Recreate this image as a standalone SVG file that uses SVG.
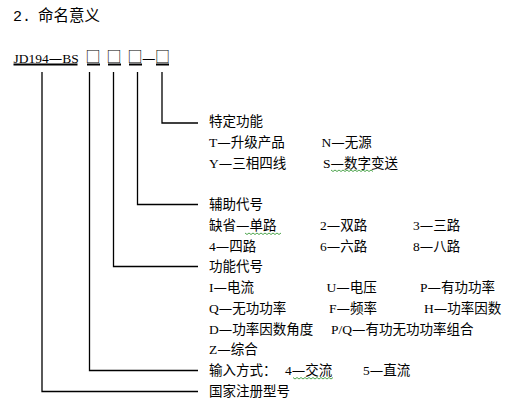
<svg xmlns="http://www.w3.org/2000/svg" width="531" height="406" viewBox="0 0 531 406">
<style>
.t{font-family:"Liberation Serif","Noto Sans CJK SC",serif;font-size:13.5px;fill:#000}
.d{font-family:"DejaVu Sans",sans-serif}
.b{font-family:"Noto Sans CJK SC",sans-serif;font-size:15px}
.h{font-family:"Noto Sans CJK SC",sans-serif;font-size:15.5px;fill:#000}
.m{font-family:"Liberation Mono",monospace;font-size:15px;fill:#000}
.c{fill:none;stroke:#000;stroke-width:1.3}
.u{fill:#000}
.w{fill:none;stroke:#3a9a3a;stroke-width:0.9}
</style>
<rect width="531" height="406" fill="#fff"/>
<g id="title">
<text class="m" x="13" y="21">2. </text>
<text class="h" x="38" y="21">命名意义</text>
</g>
<g id="model">
<text class="t" x="13.5" y="63" font-size="14">JD194<tspan class="d">—</tspan>BS</text>
<text class="t b" x="85.5" y="62">□</text>
<text class="t b" x="106.5" y="62">□</text>
<text class="t b" x="127.5" y="62">□</text>
<text class="t d" x="142" y="63" font-size="14">—</text>
<text class="t b" x="155" y="62">□</text>
<rect class="u" x="13.5" y="63.5" width="64" height="2"/>
<rect class="u" x="87" y="63.5" width="13" height="2"/>
<rect class="u" x="108" y="63.5" width="13" height="2"/>
<rect class="u" x="129" y="63.5" width="13" height="2"/>
<rect class="u" x="156" y="63.5" width="13" height="2"/>
</g>
<g id="connectors">
<polyline class="c" points="162,72 162,123 198,123"/>
<polyline class="c" points="137.5,72 137.5,204.5 198,204.5"/>
<polyline class="c" points="113.5,72 113.5,266.5 198,266.5"/>
<polyline class="c" points="89.5,72 89.5,370.5 198,370.5"/>
<polyline class="c" points="42,72 42,391.5 198,391.5"/>
</g>
<g id="special">
<text class="t" x="209" y="126">特定功能</text>
<text class="t" x="209" y="146.75">T<tspan class="d">—</tspan>升级产品</text>
<text class="t" x="321.5" y="146.75">N<tspan class="d">—</tspan>无源</text>
<text class="t" x="209" y="167.5">Y<tspan class="d">—</tspan>三相四线</text>
<text class="t" x="323" y="167.5">S<tspan class="d">—</tspan>数字变送</text>
<path class="w" d="M331,170 l2,1.5 2,-1.5 2,1.5 2,-1.5 2,1.5 2,-1.5 2,1.5 2,-1.5 2,1.5 2,-1.5 2,1.5 2,-1.5 2,1.5 2,-1.5 2,1.5 2,-1.5 2,1.5 2,-1.5 2,1.5 2,-1.5 2,1.5"/>
</g>
<g id="aux">
<text class="t" x="209" y="209">辅助代号</text>
<text class="t" x="209" y="229.75">缺省<tspan class="d">—</tspan>单路</text>
<text class="t" x="320" y="229.75">2<tspan class="d">—</tspan>双路</text>
<text class="t" x="413" y="229.75">3<tspan class="d">—</tspan>三路</text>
<path class="w" d="M245,233 l2,1.5 2,-1.5 2,1.5 2,-1.5 2,1.5 2,-1.5 2,1.5 2,-1.5 2,1.5 2,-1.5 2,1.5 2,-1.5 2,1.5 2,-1.5 2,1.5 2,-1.5 2,1.5 2,-1.5"/>
<text class="t" x="209" y="250.5">4<tspan class="d">—</tspan>四路</text>
<text class="t" x="320" y="250.5">6<tspan class="d">—</tspan>六路</text>
<text class="t" x="413" y="250.5">8<tspan class="d">—</tspan>八路</text>
</g>
<g id="func">
<text class="t" x="209" y="271.25">功能代号</text>
<text class="t" x="209" y="292">I<tspan class="d">—</tspan>电流</text>
<text class="t" x="326.5" y="292">U<tspan class="d">—</tspan>电压</text>
<text class="t" x="420" y="292">P<tspan class="d">—</tspan>有功功率</text>
<text class="t" x="209" y="312.75">Q<tspan class="d">—</tspan>无功功率</text>
<text class="t" x="329" y="312.75">F<tspan class="d">—</tspan>频率</text>
<text class="t" x="424" y="312.75">H<tspan class="d">—</tspan>功率因数</text>
<text class="t" x="209" y="333.5">D<tspan class="d">—</tspan>功率因数角度</text>
<text class="t" x="331" y="333.5">P/Q<tspan class="d">—</tspan>有功无功功率组合</text>
<text class="t" x="209" y="354.25">Z<tspan class="d">—</tspan>综合</text>
</g>
<g id="input">
<text class="t" x="209" y="375">输入方式：</text>
<text class="t" x="285" y="375">4<tspan class="d">—</tspan>交流</text>
<text class="t" x="363" y="375">5<tspan class="d">—</tspan>直流</text>
<path class="w" d="M293,377.5 l2,1.5 2,-1.5 2,1.5 2,-1.5 2,1.5 2,-1.5 2,1.5 2,-1.5 2,1.5 2,-1.5 2,1.5 2,-1.5 2,1.5 2,-1.5 2,1.5 2,-1.5 2,1.5 2,-1.5 2,1.5 2,-1.5"/>
</g>
<g id="national">
<text class="t" x="209" y="395.75">国家注册型号</text>
</g>
</svg>
